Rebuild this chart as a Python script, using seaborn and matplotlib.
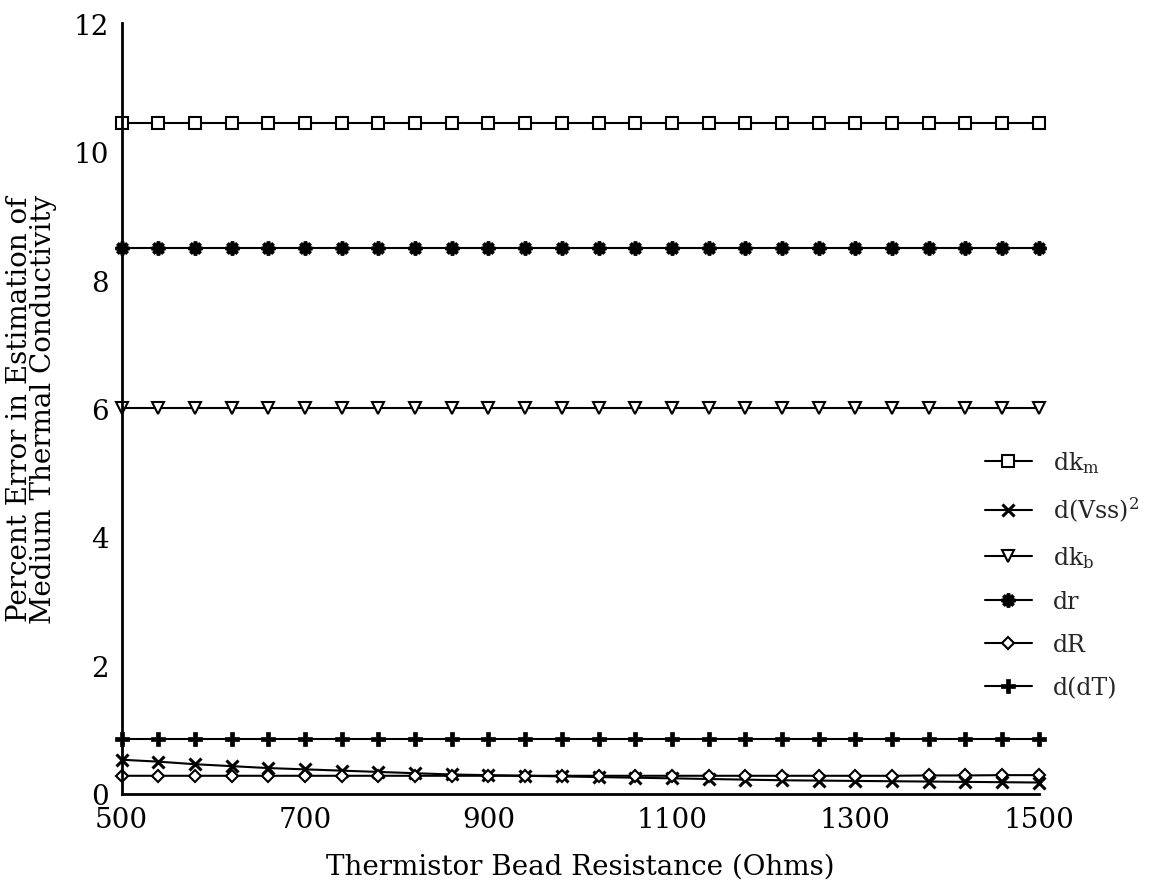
import matplotlib
matplotlib.use("Agg")
import matplotlib.pyplot as plt
import seaborn as sns
import pandas as pd
import numpy as np

# ---- data ----
resistance = [500, 540, 580, 620, 660, 700, 740, 780, 820, 860, 900, 940, 980,
              1020, 1060, 1100, 1140, 1180, 1220, 1260, 1300, 1340, 1380, 1420, 1460, 1500]
dk_m = [10.45] * 26
d_vss2 = [0.53, 0.50, 0.46, 0.43, 0.40, 0.38, 0.36, 0.34, 0.32, 0.30, 0.29, 0.28, 0.27,
          0.26, 0.25, 0.24, 0.23, 0.22, 0.21, 0.205, 0.20, 0.195, 0.19, 0.185, 0.18, 0.175]
dk_b = [6.0] * 26
dr = [8.5] * 26
dR = [0.28] * 22 + [0.285, 0.285, 0.29, 0.29]
d_dT = [0.85] * 26

series_names = ["dk$_{\\mathrm{m}}$", "d(Vss)$^{2}$", "dk$_{\\mathrm{b}}$", "dr", "dR", "d(dT)"]
series_vals = [dk_m, d_vss2, dk_b, dr, dR, d_dT]

xticks = [500, 700, 900, 1100, 1300, 1500]
yticks = [0, 2, 4, 6, 8, 10, 12]

sns.set_theme(style="white")
plt.rcParams['font.family'] = ['DejaVu Serif']
plt.rcParams['mathtext.fontset'] = 'dejavuserif'

styles = [
    dict(marker='s', markersize=9, markerfacecolor='white', markeredgewidth=1.5),
    dict(marker='x', markersize=9, markeredgewidth=2.2),
    dict(marker='v', markersize=9, markerfacecolor='white', markeredgewidth=1.5),
    dict(marker=(8, 2, 0), markersize=10, markeredgewidth=2.6),
    dict(marker='D', markersize=6.5, markerfacecolor='white', markeredgewidth=1.5),
    dict(marker='P', markersize=10, markeredgewidth=0.5),
]

fig = plt.figure(figsize=(11.58, 8.95), dpi=100)
ax = fig.add_axes([0.105, 0.112, 0.792, 0.861])

for name, vals, st in zip(series_names, series_vals, styles):
    df = pd.DataFrame({"R": resistance, "v": vals})
    sns.lineplot(data=df, x="R", y="v", ax=ax, color='black', linewidth=1.5,
                 markeredgecolor='black', label=name, clip_on=False, **st)

ax.set_xlim(500, 1500)
ax.set_ylim(0, 12)
ax.set_xticks(xticks)
ax.set_yticks(yticks)
ax.tick_params(axis='both', direction='out', length=7, width=1.5, labelsize=20,
               color='black', labelcolor='black', pad=2)
for s in ['top', 'right']:
    ax.spines[s].set_visible(False)
for s in ['left', 'bottom']:
    ax.spines[s].set_color('black')
    ax.spines[s].set_linewidth(2.0)

ax.set_xlabel("Thermistor Bead Resistance (Ohms)", fontsize=20, labelpad=14, color='black')
ax.set_ylabel("Percent Error in Estimation of\nMedium Thermal Conductivity", fontsize=20,
              labelpad=12, color='black', linespacing=0.85)

leg = ax.legend(loc='center left', bbox_to_anchor=(0.941, 0.285), frameon=False,
                fontsize=17, handlelength=2.0, labelspacing=0.85, handletextpad=0.9,
                borderaxespad=0, borderpad=0)

fig.savefig("out.png", dpi=100, facecolor='white')
